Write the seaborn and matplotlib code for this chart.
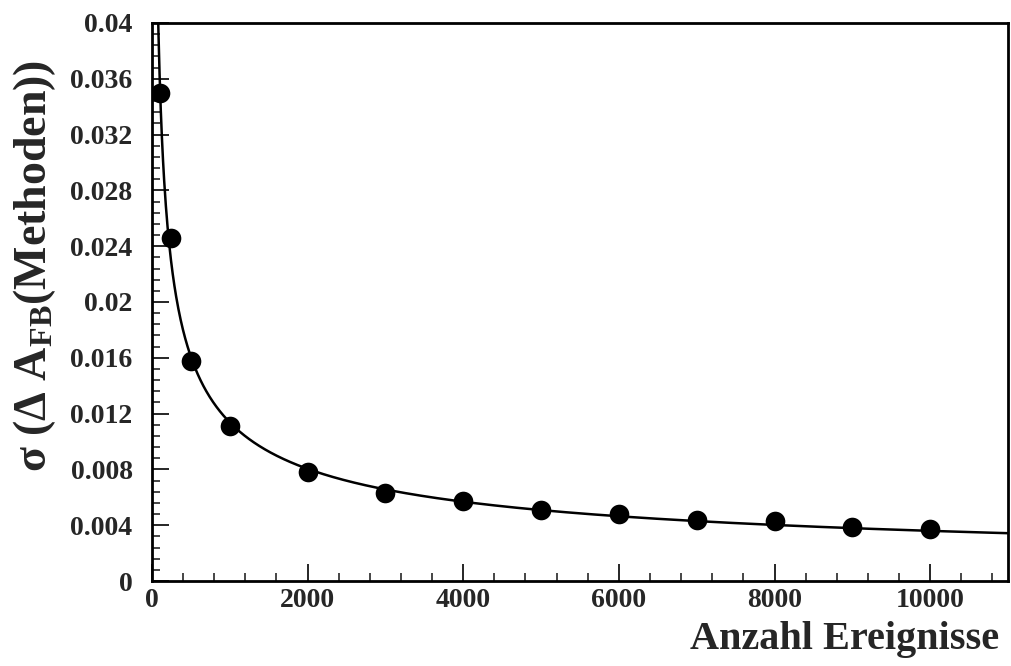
import numpy as np
import pandas as pd
import matplotlib
matplotlib.use("Agg")
import matplotlib.pyplot as plt
from matplotlib.ticker import MultipleLocator, FixedLocator
import seaborn as sns

# Measured spread of the method difference vs. number of events
n_events = [100, 250, 500, 1000, 2000, 3000, 4000, 5000, 6000, 7000, 8000, 9000, 10000]
sigma = [0.0350, 0.0246, 0.0158, 0.0111, 0.0078, 0.0063, 0.0057, 0.0051,
         0.0048, 0.0044, 0.0043, 0.0039, 0.0037]

x_ticks = [0, 2000, 4000, 6000, 8000, 10000]
y_ticks = [0, 0.004, 0.008, 0.012, 0.016, 0.02, 0.024, 0.028, 0.032, 0.036, 0.04]
y_tick_labels = ["0", "0.004", "0.008", "0.012", "0.016", "0.02", "0.024",
                 "0.028", "0.032", "0.036", "0.04"]

sns.set_theme(style="ticks")
plt.rcParams["font.family"] = ["Liberation Serif", "DejaVu Serif"]
plt.rcParams["font.weight"] = "bold"
plt.rcParams["mathtext.fontset"] = "custom"
plt.rcParams["mathtext.rm"] = "Liberation Serif:bold"
plt.rcParams["mathtext.bf"] = "Liberation Serif:bold"
plt.rcParams["mathtext.it"] = "Liberation Serif:bold"

pts = pd.DataFrame({"N": n_events, "sigma": sigma})

# 1/sqrt(N) fit to the measured points (least squares for the amplitude)
x_arr = np.asarray(n_events, dtype=float)
y_arr = np.asarray(sigma)
amp = np.sum(y_arr / np.sqrt(x_arr)) / np.sum(1.0 / x_arr)
n_fit = np.linspace(40, 11000, 1500)
fit = pd.DataFrame({"N": n_fit, "sigma": amp / np.sqrt(n_fit)})

fig = plt.figure(figsize=(10.11, 6.66), dpi=100)
ax = fig.add_axes([0.1503, 0.1276, 0.8467, 0.8379])

sns.lineplot(data=fit, x="N", y="sigma", ax=ax, color="black", linewidth=1.8)
sns.scatterplot(data=pts, x="N", y="sigma", ax=ax, color="black", s=200,
                edgecolor="black", linewidth=0, zorder=3)

ax.set_xlim(0, 11000)
ax.set_ylim(0, 0.04)

ax.xaxis.set_major_locator(FixedLocator(x_ticks))
ax.xaxis.set_minor_locator(MultipleLocator(400))
ax.yaxis.set_major_locator(FixedLocator(y_ticks))
ax.set_yticklabels(y_tick_labels)
ax.yaxis.set_minor_locator(MultipleLocator(0.0008))

ax.tick_params(axis="both", which="major", direction="in", length=12, width=1.4,
               labelsize=20, top=False, right=False)
ax.tick_params(axis="both", which="minor", direction="in", length=6, width=1.2,
               top=False, right=False)
ax.tick_params(axis="y", which="major", pad=14)
ax.tick_params(axis="x", which="major", pad=5)
for lab in ax.get_xticklabels() + ax.get_yticklabels():
    lab.set_fontweight("bold")

for sp in ax.spines.values():
    sp.set_visible(True)
    sp.set_linewidth(2.0)
    sp.set_color("black")

ax.set_xlabel("Anzahl Ereignisse", fontsize=29, fontweight="bold",
              ha="right")
ax.xaxis.set_label_coords(0.99, -0.072)
ax.set_ylabel(r"σ (Δ A$_{\mathbf{FB}}$(Methoden))", fontsize=33, fontweight="bold")
ax.yaxis.set_label_coords(-0.11, 0.565)

fig.savefig("out.png", dpi=100, facecolor="white")
